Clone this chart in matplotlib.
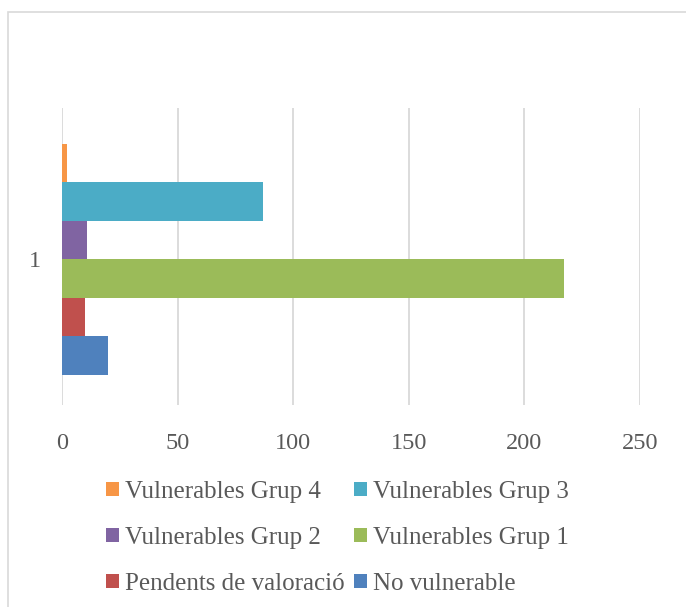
import numpy as np
import matplotlib.pyplot as plt
from matplotlib.patches import Patch, Rectangle

plt.rc('font', family='Liberation Serif')

category = ['1']
series = ['No vulnerable', 'Pendents de valoració', 'Vulnerables Grup 1',
          'Vulnerables Grup 2', 'Vulnerables Grup 3', 'Vulnerables Grup 4']
values = [20, 10, 217, 11, 87, 2]
colors = ['#4F81BD', '#C0504D', '#9BBB59', '#8064A2', '#4BACC6', '#F79646']
xticks = [0, 50, 100, 150, 200, 250]

text_col = '#595959'
grid_col = '#d9d9d9'

fig = plt.figure(figsize=(6.86, 6.07), dpi=100)
# chart frame
fig.patches.append(Rectangle((8/686, -0.1), 1.2, 1 - 12/607 + 0.1, transform=fig.transFigure,
                             fill=False, edgecolor=grid_col, linewidth=1.2))

ax = fig.add_axes([62/686, 1 - 405/607, 578/686, 297/607])

group = 0.778
bar_h = group / len(series)
for i, (name, v, c) in enumerate(zip(series, values, colors)):
    y = -group/2 + (i + 0.5) * bar_h
    ax.barh(y, v, height=bar_h, color=c, label=name, zorder=3)

ax.set_xlim(0, 250)
ax.set_ylim(-0.49, 0.51)
ax.set_xticks(xticks)
ax.set_yticks([0])
ax.set_yticklabels(category)
ax.tick_params(axis='x', length=0, pad=20, labelsize=17.5, labelcolor=text_col)
ax.tick_params(axis='y', length=0, pad=15, labelsize=17.5, labelcolor=text_col)
for s in ax.spines.values():
    s.set_visible(False)
ax.grid(True, axis='x', color=grid_col, linewidth=1.3, zorder=0)

# legend, Excel-style ordering (row-wise)
order = [5, 3, 1, 4, 2, 0]
handles = [Patch(facecolor=colors[k], label=series[k]) for k in order]
leg = fig.legend(handles=handles, ncol=2, loc='upper left',
                 bbox_to_anchor=(106/686, 1 - 481/607), frameon=False,
                 fontsize=18, handlelength=0.5, handleheight=0.5,
                 handletextpad=0.25, columnspacing=0.4, labelspacing=0.95,
                 borderpad=0, borderaxespad=0)
for t in leg.get_texts():
    t.set_color(text_col)

plt.savefig('out.png', dpi=100)
